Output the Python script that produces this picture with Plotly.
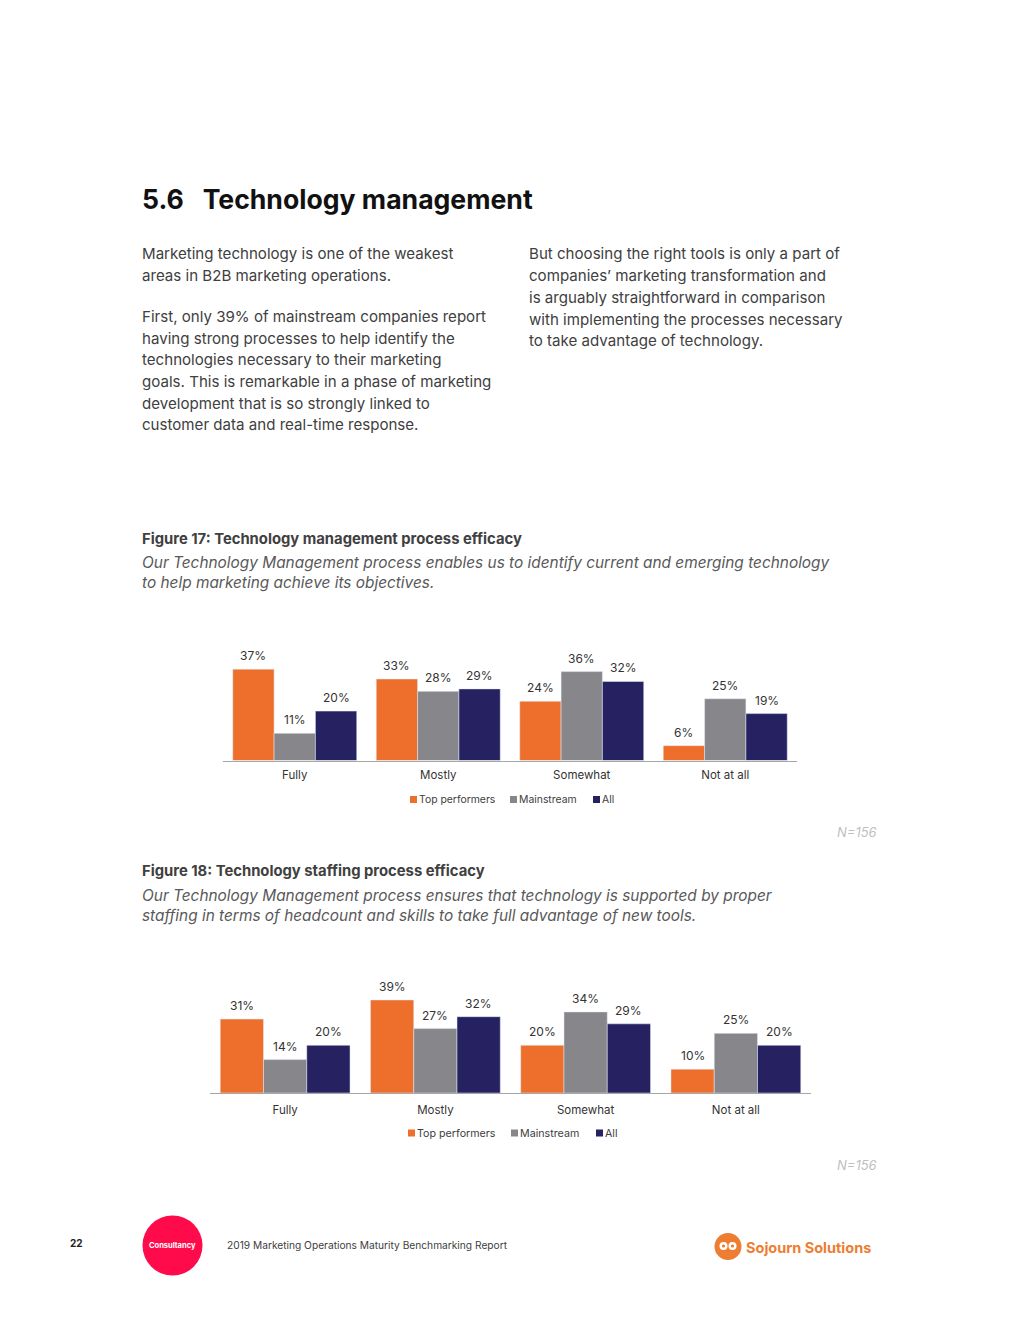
import plotly.graph_objects as go

categories = ["Fully", "Mostly", "Somewhat", "Not at all"]
series_names = ["Top performers", "Mainstream", "All"]
colors = ["#ED6F2B", "#87868B", "#262261"]
fig17_top = [37, 33, 24, 6]
fig17_main = [11, 28, 36, 25]
fig17_all = [20, 29, 32, 19]
fig18_top = [31, 39, 20, 10]
fig18_main = [14, 27, 34, 25]
fig18_all = [20, 32, 29, 20]

FONT = "Inter"
W, H = 1020, 1320
OX, OY = 8, 8
def px(x): return (x - OX) / W
def py(y): return 1 - (y - OY) / H

fig = go.Figure()
annotations = []
charts = [("x", "y", [fig17_top, fig17_main, fig17_all], 41.3),
          ("x2", "y2", [fig18_top, fig18_main, fig18_all], 43.3)]
for xa, ya, groups, bar_px in charts:
    for i, (name, color, vals) in enumerate(zip(series_names, colors, groups)):
        fig.add_bar(x=categories, y=vals, name=name, marker_color=color, xaxis=xa, yaxis=ya, hoverinfo="skip")
        for cat, v in zip(categories, vals):
            annotations.append(dict(x=cat, y=v, xref=xa, yref=ya, text=f"{v}%", showarrow=False, xanchor="center",
                                    yanchor="bottom", xshift=(i - 1) * bar_px, yshift=4,
                                    font=dict(size=12, color="#333333", family=FONT)))

def xaxis(a, b, anchor, standoff):
    return dict(domain=[px(a), px(b)], type="category", anchor=anchor, showline=True, linecolor="#A6A6A6", linewidth=1,
                ticks="", showgrid=False, ticklabelstandoff=standoff,
                tickfont=dict(size=11.5, color="#333333", family=FONT), fixedrange=True)
def yaxis(top, base, rng, anchor):
    return dict(domain=[py(base), py(top)], range=[0, rng], visible=False, anchor=anchor, fixedrange=True)

BODY = 15.1
GREY = "#404040"
ITAL = 15.4
lines = [
    (142, 199, "<b>5.6   Technology management</b>", 26.6, "#111111"),
    (142, 253.5, "Marketing technology is one of the weakest", BODY, GREY),
    (142, 275.5, "areas in B2B marketing operations.", BODY, GREY),
    (142, 316.5, "First, only 39% of mainstream companies report", BODY, GREY),
    (142, 338, "having strong processes to help identify the", BODY, GREY),
    (142, 360, "technologies necessary to their marketing", BODY, GREY),
    (142, 381.5, "goals. This is remarkable in a phase of marketing", BODY, GREY),
    (142, 403, "development that is so strongly linked to", BODY, GREY),
    (142, 424.5, "customer data and real-time response.", BODY, GREY),
    (529, 253.5, "But choosing the right tools is only a part of", BODY, GREY),
    (529, 275.5, "companies’ marketing transformation and", BODY, GREY),
    (529, 297.5, "is arguably straightforward in comparison", BODY, GREY),
    (529, 319, "with implementing the processes necessary", BODY, GREY),
    (529, 340.5, "to take advantage of technology.", BODY, GREY),
    (142, 538.5, "<b>Figure 17: Technology management process efficacy</b>", 14.8, "#404040"),
    (142, 562.5, "<i>Our Technology Management process enables us to identify current and emerging technology</i>", ITAL, "#595959"),
    (142, 582.5, "<i>to help marketing achieve its objectives.</i>", ITAL, "#595959"),
    (142, 871, "<b>Figure 18: Technology staffing process efficacy</b>", 14.8, "#404040"),
    (142, 895.5, "<i>Our Technology Management process ensures that technology is supported by proper</i>", ITAL, "#595959"),
    (142, 915.5, "<i>staffing in terms of headcount and skills to take full advantage of new tools.</i>", ITAL, "#595959"),
    (837, 831.5, "<i>N=156</i>", 13, "#BFBFBF"),
    (837, 1164.5, "<i>N=156</i>", 13, "#BFBFBF"),
    (70, 1243, "<b>22</b>", 10, "#222222"),
    (227, 1245, "2019 Marketing Operations Maturity Benchmarking Report", 10.2, GREY),
    (746, 1247, "<b>Sojourn Solutions</b>", 14.5, "#ED7D31"),
]
annotations += [dict(x=px(x), y=py(y), xref="paper", yref="paper", text=t, showarrow=False, xanchor="left",
                     yanchor="middle", xshift=-2, align="left", font=dict(size=s, color=c, family=FONT))
                for x, y, t, s, c in lines]
annotations.append(dict(x=px(172.5), y=py(1245.5), xref="paper", yref="paper", text="<b>Consultancy</b>", showarrow=False,
                        xanchor="center", yanchor="middle", font=dict(size=7.5, color="white", family=FONT)))

def circle(cx, cy, r, color):
    return dict(type="circle", xref="paper", yref="paper", x0=px(cx - r), x1=px(cx + r), y0=py(cy + r), y1=py(cy - r),
                fillcolor=color, line_width=0, layer="below")
shapes = [circle(172.5, 1245.5, 30, "#FF0A4B"), circle(728, 1246.5, 13.5, "#ED7D31"),
          circle(723.5, 1246, 4, "white"), circle(732.5, 1246, 4, "white"),
          circle(723.5, 1246, 1.6, "#ED7D31"), circle(732.5, 1246, 1.6, "#ED7D31")]

# compact legends: (swatch left edge, text left edge) per series
legend_17 = [(410, 419), (510, 519), (593, 602)]
legend_18 = [(408, 417), (511, 520), (596, 605)]
for (positions, yc, size) in [(legend_17, 799.5, 10.4), (legend_18, 1133, 10.7)]:
    for (sx, tx), name, color in zip(positions, series_names, colors):
        shapes.append(dict(type="rect", xref="paper", yref="paper", x0=px(sx), x1=px(sx + 7), y0=py(yc + 3.5), y1=py(yc - 3.5),
                           fillcolor=color, line_width=0))
        annotations.append(dict(x=px(tx), y=py(yc), xref="paper", yref="paper", text=name, showarrow=False, xanchor="left",
                                yanchor="middle", xshift=-2, font=dict(size=size, color=GREY, family=FONT)))

fig.update_layout(
    width=W, height=H, margin=dict(l=0, r=0, t=0, b=0), paper_bgcolor="white", plot_bgcolor="white",
    barmode="group", bargap=0.136, bargroupgap=0, showlegend=False, font=dict(family=FONT),
    xaxis=xaxis(223, 797, "y", 4), yaxis=yaxis(640, 760.5, 48.8, "x"),
    xaxis2=xaxis(210, 811, "y2", 6), yaxis2=yaxis(970, 1093, 51.57, "x2"),
    annotations=annotations, shapes=shapes,
)
fig.write_html("out.html")
